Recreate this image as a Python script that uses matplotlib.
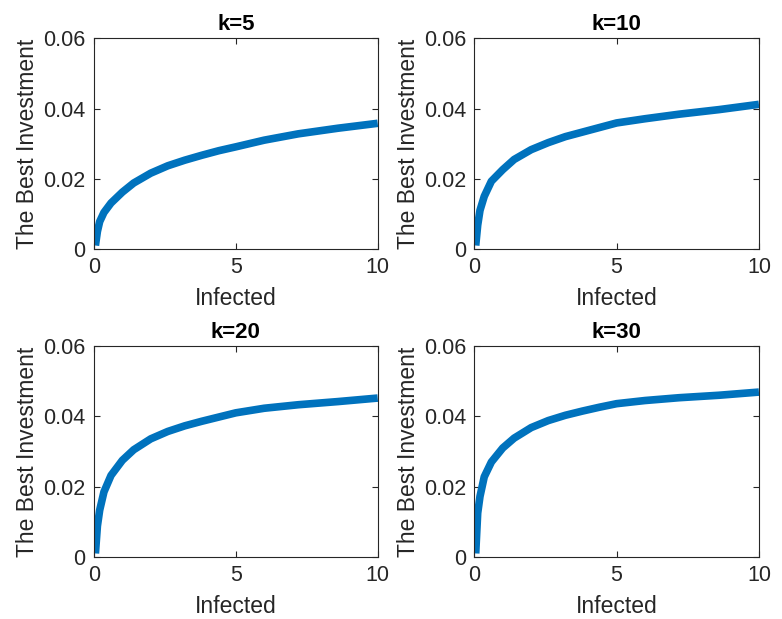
import matplotlib
matplotlib.use('Agg')
import matplotlib.pyplot as plt
import numpy as np

plt.rcParams['font.family'] = ['Liberation Sans', 'DejaVu Sans']

# values
infected = [0.05, 0.12, 0.2, 0.35, 0.6, 1.0, 1.4, 2.0, 2.6, 3.2, 3.8, 4.4, 5.0, 6.0, 7.2, 8.6, 10]
invest_k5 = [0.001, 0.0050, 0.0078, 0.0104, 0.0131, 0.0162, 0.0188, 0.0216, 0.0237, 0.0253,
             0.0267, 0.0280, 0.0291, 0.0310, 0.0328, 0.0344, 0.0358]
invest_k10 = [0.001, 0.0068, 0.0110, 0.0150, 0.0193, 0.0226, 0.0255, 0.0283, 0.0303, 0.0320,
              0.0333, 0.0346, 0.0359, 0.0371, 0.0384, 0.0397, 0.0412]
invest_k20 = [0.001, 0.0088, 0.0133, 0.0185, 0.0232, 0.0275, 0.0305, 0.0336, 0.0357, 0.0373,
              0.0386, 0.0398, 0.0410, 0.0423, 0.0433, 0.0442, 0.0452]
invest_k30 = [0.001, 0.0125, 0.0172, 0.0228, 0.0270, 0.0310, 0.0338, 0.0368, 0.0388, 0.0403,
              0.0415, 0.0426, 0.0436, 0.0445, 0.0453, 0.0460, 0.0469]

titles = ['k=5', 'k=10', 'k=20', 'k=30']
series = [invest_k5, invest_k10, invest_k20, invest_k30]

positions = [
    [0.1202, 0.5977, 0.3628, 0.3404],
    [0.6065, 0.5977, 0.3640, 0.3404],
    [0.1202, 0.1002, 0.3628, 0.3408],
    [0.6065, 0.1002, 0.3640, 0.3408],
]

axcol = '#262626'
fig = plt.figure(figsize=(7.82, 6.19), dpi=100)

for pos, title, vals in zip(positions, titles, series):
    ax = fig.add_axes(pos)
    ax.plot(infected, vals, color='#0072BD', linewidth=5.5,
            solid_capstyle='butt', solid_joinstyle='round')
    ax.set_xlim(0, 10)
    ax.set_ylim(0, 0.06)
    ax.set_xticks([0, 5, 10])
    ax.set_yticks([0, 0.02, 0.04, 0.06])
    ax.set_yticklabels(['0', '0.02', '0.04', '0.06'])
    ax.tick_params(direction='in', top=True, right=True, length=4, width=0.8,
                   labelsize=15.5, colors=axcol, pad=6)
    for s in ax.spines.values():
        s.set_color(axcol)
        s.set_linewidth(0.8)
    ax.set_title(title, fontsize=16, fontweight='bold', pad=6)
    ax.set_xlabel('Infected', fontsize=16.5, color=axcol, labelpad=6)
    ax.set_ylabel('The Best Investment', fontsize=16.5, color=axcol, labelpad=3)

plt.savefig('out.png', dpi=100)
